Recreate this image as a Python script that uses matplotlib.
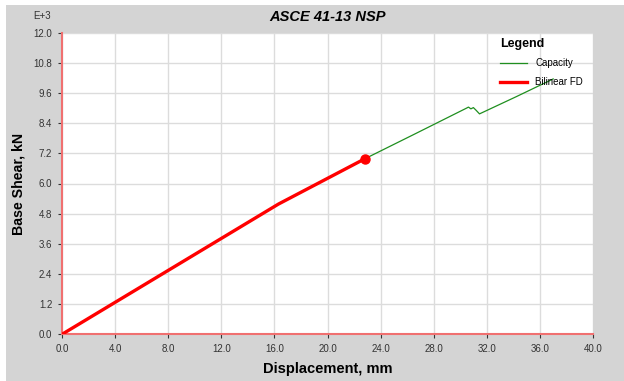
import numpy as np
import matplotlib
matplotlib.use("Agg")
import matplotlib.pyplot as plt
from matplotlib.patches import Rectangle

plt.rcParams['font.family'] = ['Liberation Sans', 'DejaVu Sans']

# --------------- Data (values in kN / 1000) ---------------
cap_disp = [0.0, 16.3, 22.8, 26.5, 30.44, 30.62, 30.80, 30.99, 31.20, 31.45, 34.2, 37.0]
cap_shear = [0.0, 5.18, 6.98, 7.95, 8.99, 9.04, 8.97, 9.02, 8.91, 8.77, 9.45, 10.16]

bil_disp = [0.0, 16.3, 22.8]
bil_shear = [0.0, 5.18, 6.98]

x_ticks = np.arange(0, 40.1, 4.0)
y_ticks = np.arange(0, 12.1, 1.2)

# --------------- Figure ---------------
fig = plt.figure(figsize=(6.24, 3.81), dpi=100)
fig.patch.set_facecolor('white')
fig.patches.append(Rectangle((6/624, 0), 1 - 6/624, 1 - 5/381, transform=fig.transFigure,
                             facecolor='#d4d4d4', edgecolor='none', zorder=-10))

ax = fig.add_axes([62/624, 1 - 334.3/381, (593 - 62)/624, (334.3 - 32.7)/381])
ax.set_facecolor('white')

ax.plot(cap_disp, cap_shear, color='#1f8f1f', lw=0.9, label='Capacity', zorder=3)
ax.plot(bil_disp, bil_shear, color='#ff0000', lw=2.4, label='Bilinear FD', zorder=4)
ax.plot(bil_disp[-1], bil_shear[-1], 'o', color='#ff0000', ms=6.5, zorder=5)

ax.set_xlim(0, 40)
ax.set_ylim(0, 12)
ax.set_xticks(x_ticks)
ax.set_yticks(y_ticks)
ax.set_xticklabels(['%.1f' % v for v in x_ticks])
ax.set_yticklabels(['%.1f' % v for v in y_ticks])
ax.tick_params(labelsize=7, colors='#333333', length=3, width=0.8, pad=4)
ax.grid(True, color='#dcdcdc', lw=1)
ax.set_axisbelow(True)

for s in ['top', 'right']:
    ax.spines[s].set_visible(False)
for s in ['left', 'bottom']:
    ax.spines[s].set_color('#f07070')
    ax.spines[s].set_linewidth(1.5)

ax.set_xlabel('Displacement, mm', fontsize=10.5, fontweight='bold', labelpad=6)
ax.set_ylabel('Base Shear, kN', fontsize=10.2, fontweight='bold', labelpad=6)
fig.text(327.5/624, 1 - 17/381, 'ASCE 41-13 NSP', fontsize=10.5, fontweight='bold',
         style='italic', ha='center', va='center')
fig.text(42/624, 1 - 16/381, 'E+3', fontsize=7, ha='center', va='center', color='#333333')

leg = ax.legend(loc='upper left', bbox_to_anchor=(500/624, 1 - 37.5/381),
                bbox_transform=fig.transFigure, frameon=False, fontsize=7,
                title='Legend', title_fontproperties={'weight': 'bold', 'size': 9},
                alignment='left', handlelength=2.8, handletextpad=0.8, labelspacing=0.9,
                borderpad=0, borderaxespad=0)

fig.savefig('out.png', dpi=100)
